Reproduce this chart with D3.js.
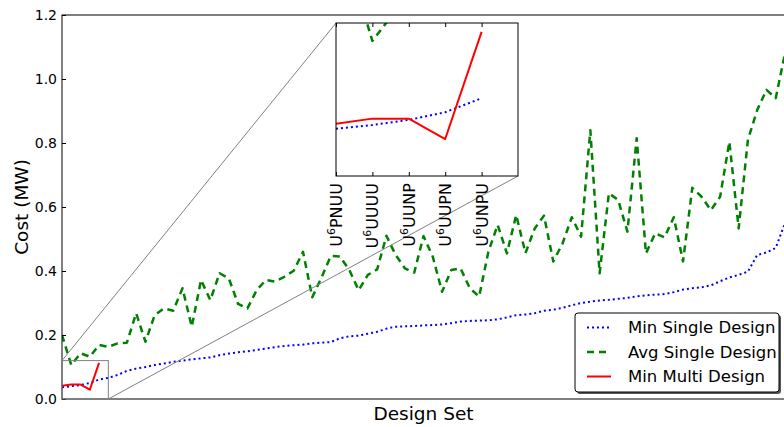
<!DOCTYPE html>
<html><head><meta charset="utf-8">
<script src="https://cdn.jsdelivr.net/npm/d3@7"></script>
<style>body{margin:0;background:#fff;} svg{display:block;font-family:"DejaVu Sans",sans-serif;}</style>
</head><body><svg id="c" width="784" height="427"></svg>
<script>
// ---- data ----
const minSingle = [0.037,0.040,0.044,0.050,0.061,0.066,0.075,0.088,0.095,0.100,
  0.106,0.111,0.116,0.120,0.124,0.127,0.130,0.137,0.142,0.146,
  0.149,0.153,0.158,0.162,0.166,0.168,0.170,0.174,0.176,0.178,
  0.190,0.196,0.198,0.204,0.210,0.220,0.226,0.227,0.228,0.230,
  0.231,0.233,0.237,0.242,0.244,0.245,0.246,0.249,0.255,0.262,
  0.264,0.268,0.276,0.279,0.285,0.293,0.300,0.304,0.308,0.310,
  0.313,0.316,0.321,0.324,0.326,0.328,0.334,0.342,0.346,0.349,
  0.355,0.368,0.380,0.388,0.398,0.450,0.458,0.472,0.550];
const avgSingle = [0.200,0.106,0.143,0.132,0.169,0.163,0.174,0.176,0.268,0.179,
  0.262,0.283,0.276,0.346,0.226,0.372,0.309,0.393,0.377,0.297,
  0.283,0.340,0.372,0.367,0.382,0.401,0.460,0.318,0.380,0.447,
  0.445,0.403,0.340,0.388,0.405,0.510,0.450,0.408,0.395,0.509,
  0.445,0.335,0.403,0.408,0.346,0.320,0.460,0.544,0.455,0.575,
  0.456,0.533,0.573,0.430,0.486,0.568,0.507,0.840,0.393,0.643,
  0.622,0.523,0.815,0.455,0.518,0.505,0.568,0.430,0.660,0.632,
  0.590,0.632,0.804,0.533,0.810,0.903,0.966,0.940,1.080];
const minMulti = [0.041,0.045,0.045,0.029,0.113];
const insetBase = ["U","U","U","U","U"];
const insetExp = ["6","6","6","6","6"];
const insetSuffix = ["PNUU","UUUU","UUNP","UUPN","UNPU"];
const yTicks = [0.0,0.2,0.4,0.6,0.8,1.0,1.2];
const seriesNames = ["Min Single Design","Avg Single Design","Min Multi Design"];
const seriesColors = ["#0000ff","#008000","#ff0000"];
const seriesDash = ["2,3","7,5",null];
const seriesWidth = [2,2.5,2];

// ---- layout ----
const svg = d3.select("#c");
const L=62, R=785, T=15, B=399;
const x = d3.scaleLinear().domain([0, minSingle.length-1]).range([L,R]);
const y = d3.scaleLinear().domain([0,1.2]).range([B,T]);
const zoomX=[0,5], zoomY=[0,0.12];
const IL=336, IR=518, IT=23, IB=176;
const xi = d3.scaleLinear().domain(zoomX).range([IL,IR]);
const yi = d3.scaleLinear().domain(zoomY).range([IB,IT]);

const defs = svg.append("defs");
defs.append("clipPath").attr("id","mainClip").append("rect").attr("x",L).attr("y",T).attr("width",R-L).attr("height",B-T);
defs.append("clipPath").attr("id","insetClip").append("rect").attr("x",IL).attr("y",IT).attr("width",IR-IL).attr("height",IB-IT);

const seriesAll = [minSingle, avgSingle, minMulti];

// main lines
const gMain = svg.append("g").attr("clip-path","url(#mainClip)");
seriesAll.forEach((s,k)=>{
  const line = d3.line().x((d,i)=>x(i)).y(d=>y(d));
  gMain.append("path").datum(s).attr("d",line).attr("fill","none")
    .attr("stroke",seriesColors[k]).attr("stroke-width",seriesWidth[k])
    .attr("stroke-dasharray",seriesDash[k]).attr("stroke-linejoin","round");
});

// main y axis (ticks inside)
const yAxis = d3.axisLeft(y).tickValues(yTicks).tickFormat(d3.format(".1f")).tickSizeInner(-4).tickSizeOuter(0).tickPadding(5);
const gy = svg.append("g").attr("transform",`translate(${L},0)`).call(yAxis);
gy.select(".domain").remove();
gy.selectAll("text").attr("font-size",14).attr("font-family","DejaVu Sans").attr("fill","#000");
gy.selectAll("line").attr("stroke","#000");

// frame
svg.append("rect").attr("x",L).attr("y",T).attr("width",R-L).attr("height",B-T)
  .attr("fill","none").attr("stroke","#000").attr("stroke-width",1);

// axis labels
svg.append("text").attr("x",(L+R)/2).attr("y",420).attr("text-anchor","middle")
  .attr("font-size",18.5).text("Design Set");
svg.append("text").attr("transform",`translate(28,${(T+B)/2}) rotate(-90)`).attr("text-anchor","middle")
  .attr("font-size",18.5).text("Cost (MW)");

// zoom box and connectors
svg.append("rect").attr("x",x(zoomX[0])).attr("y",y(zoomY[1])).attr("width",x(zoomX[1])-x(zoomX[0]))
  .attr("height",y(zoomY[0])-y(zoomY[1])).attr("fill","none").attr("stroke","#808080").attr("stroke-width",1);
svg.append("line").attr("x1",x(zoomX[0])).attr("y1",y(zoomY[1])).attr("x2",IL).attr("y2",IT)
  .attr("stroke","#808080").attr("stroke-width",1);
svg.append("line").attr("x1",x(zoomX[1])).attr("y1",y(zoomY[0])).attr("x2",IR).attr("y2",IB)
  .attr("stroke","#808080").attr("stroke-width",1);

// inset
svg.append("rect").attr("x",IL).attr("y",IT).attr("width",IR-IL).attr("height",IB-IT).attr("fill","#fff");
const gIn = svg.append("g").attr("clip-path","url(#insetClip)");
seriesAll.forEach((s,k)=>{
  const sub = s.slice(0, insetSuffix.length);
  const line = d3.line().x((d,i)=>xi(i)).y(d=>yi(d));
  gIn.append("path").datum(sub).attr("d",line).attr("fill","none")
    .attr("stroke",seriesColors[k]).attr("stroke-width",seriesWidth[k])
    .attr("stroke-dasharray",seriesDash[k]).attr("stroke-linejoin","round");
});
const tickIdx = insetSuffix.map((d,i)=>i);
const gib = svg.append("g").attr("transform",`translate(0,${IB})`)
  .call(d3.axisBottom(xi).tickValues(tickIdx).tickSizeInner(-4).tickSizeOuter(0).tickFormat(""));
gib.select(".domain").remove();
const git = svg.append("g").attr("transform",`translate(0,${IT})`)
  .call(d3.axisTop(xi).tickValues(tickIdx).tickSizeInner(-4).tickSizeOuter(0).tickFormat(""));
git.select(".domain").remove();
svg.selectAll(".tick line").attr("stroke","#000");
svg.append("rect").attr("x",IL).attr("y",IT).attr("width",IR-IL).attr("height",IB-IT)
  .attr("fill","none").attr("stroke","#000").attr("stroke-width",1);
// inset labels
tickIdx.forEach(i=>{
  const t = svg.append("text").attr("transform",`translate(${xi(i)+6},${IB+7}) rotate(-90)`)
    .attr("text-anchor","end").attr("font-size",16);
  t.append("tspan").text(insetBase[i]);
  t.append("tspan").attr("dy",-7).attr("font-size",11).text(insetExp[i]);
  t.append("tspan").attr("dy",7).text(insetSuffix[i]);
});

// legend
const LX=575, LY=313, LW=204, LH=79;
svg.append("rect").attr("x",LX+2).attr("y",LY+2).attr("width",LW).attr("height",LH).attr("rx",3)
  .attr("fill","#555");
svg.append("rect").attr("x",LX).attr("y",LY).attr("width",LW).attr("height",LH).attr("rx",3)
  .attr("fill","#fff").attr("stroke","#000").attr("stroke-width",1);
seriesNames.forEach((n,k)=>{
  const yy = LY + 14.5 + k*24.5;
  svg.append("line").attr("x1",LX+12).attr("x2",LX+36).attr("y1",yy).attr("y2",yy)
    .attr("stroke",seriesColors[k]).attr("stroke-width",seriesWidth[k]).attr("stroke-dasharray",seriesDash[k]);
  svg.append("text").attr("x",LX+53).attr("y",yy).attr("dy","0.36em").attr("font-size",16.5).text(n);
});
</script></body></html>
